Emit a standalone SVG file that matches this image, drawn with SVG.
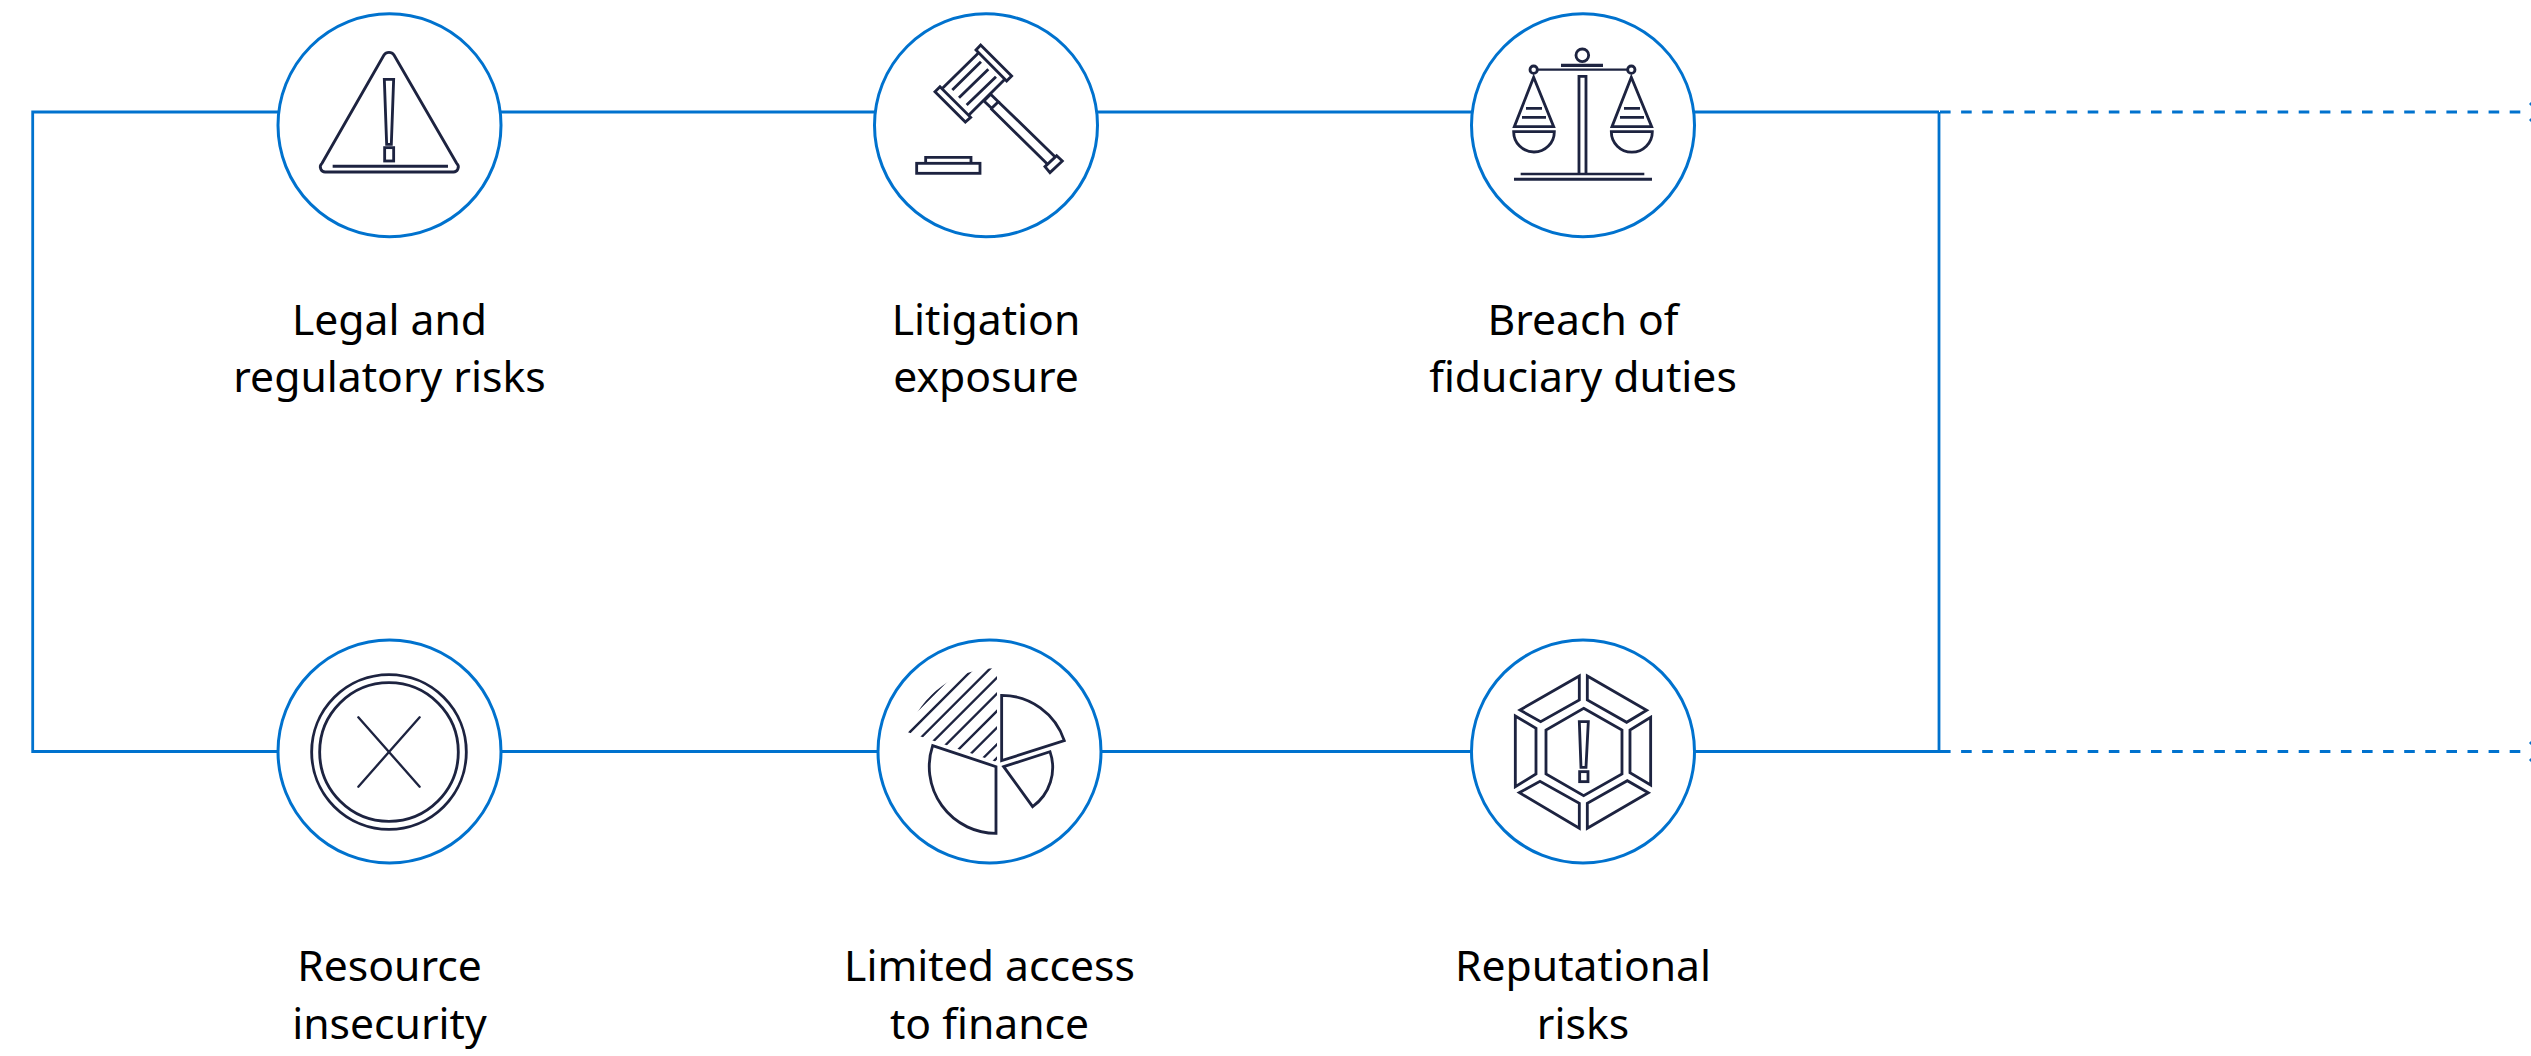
<svg xmlns="http://www.w3.org/2000/svg" width="2531" height="1056" viewBox="0 0 2531 1056">
<style>
.bg{fill:#fff}
.ring{fill:#fff;stroke:#0072ce;stroke-width:3}
.wire{fill:none;stroke:#0072ce;stroke-width:2.800}
.dash{fill:none;stroke:#0072ce;stroke-width:2.800;stroke-dasharray:10.600 10.500}
.i{fill:none;stroke:#1d2340;stroke-width:8.500}
.t{font-family:"Noto Sans","Open Sans",sans-serif;font-size:42.670px;fill:#000;text-anchor:middle}
</style>
<defs>
<clipPath id="hatch"><path d="M396 396L396 115A281 281 0 0 0 129 307Z"/></clipPath>
</defs>
<rect class="bg" width="2531" height="1056"/>
<g id="connectors">
<path class="wire" d="M1939 112H32.700V751.500H1939V112"/>
<path class="dash" d="M1940 112H2530"/>
<path class="dash" d="M1940 751.500H2530"/>
<path class="wire" d="M2530 103L2539 112L2530 121"/>
<path class="wire" d="M2530 742L2539 751.500L2530 761"/>
</g>
<g id="node-legal">
<circle class="ring" cx="389.500" cy="125.300" r="111.500"/>
<g transform="translate(260 0) scale(.3333)">
<path class="i" d="M372 165L186 490A15 15 0 0 0 198 516H578A15 15 0 0 0 590 490L402 165A18 18 0 0 0 372 165Z"/>
<path class="i" style="stroke-width:9" d="M218 499H564"/>
<path class="i" d="M373 238H401L394 433H380Z"/>
<rect class="i" x="374" y="443" width="27" height="40"/>
</g>
<text class="t" x="389.500" y="335">Legal and</text>
<text class="t" x="389.500" y="392">regulatory risks</text>
</g>
<g id="node-litigation">
<circle class="ring" cx="986" cy="125.300" r="111.500"/>
<g transform="translate(860 0) scale(.3333)">
<path class="i" d="M348 150L362 135L455 228L440 243Z"/>
<path class="i" d="M225 275L240 260L332 352L316 366Z"/>
<path class="i" d="M246 266L356 158M326 346L436 236"/>
<path class="i" d="M277 270L363 185M297 293L385 208M320 315L408 230"/>
<path class="i" d="M372 303L392 283L415 305L395 325Z"/>
<path class="i" d="M392 325L562 492M415 305L585 470"/>
<path class="i" d="M555 500L590 467L607 483L570 518Z"/>
<path class="i" d="M197 490V472H333V490"/>
<rect class="i" x="170" y="490" width="190" height="30"/>
</g>
<text class="t" x="986" y="335">Litigation</text>
<text class="t" x="986" y="392">exposure</text>
</g>
<g id="node-fiduciary">
<circle class="ring" cx="1583" cy="125.300" r="111.500"/>
<g transform="translate(1460 0) scale(.3333)">
<circle class="i" cx="367" cy="166" r="19"/>
<path class="i" style="stroke-width:10" d="M303 196H429"/>
<path class="i" style="stroke-width:7" d="M232 209H503"/>
<circle class="i" cx="221" cy="209" r="11"/>
<circle class="i" cx="514" cy="209" r="11"/>
<path class="i" d="M357 522V229H378V522"/>
<path class="i" style="stroke-width:7" d="M182 522H553"/>
<path class="i" style="stroke-width:9" d="M162 538H576"/>
<path class="i" d="M221 232L163 380H281Z"/>
<path class="i" d="M198 325H246M186 352H258"/>
<path class="i" d="M161 395H283A61 61 0 0 1 161 395Z"/>
<path class="i" d="M514 232L456 380H575Z"/>
<path class="i" d="M492 325H540M480 352H552"/>
<path class="i" d="M454 395H577A61.500 61.500 0 0 1 454 395Z"/>
</g>
<text class="t" x="1583" y="335">Breach of</text>
<text class="t" x="1583" y="392">fiduciary duties</text>
</g>
<g id="node-resource">
<circle class="ring" cx="389.500" cy="751.500" r="111.500"/>
<g transform="translate(260 630) scale(.3333)">
<circle class="i" cx="387" cy="366" r="232"/>
<circle class="i" cx="387" cy="366" r="208"/>
<path class="i" style="stroke-width:7;stroke-linecap:round" d="M295 262L479 470M479 262L295 470"/>
</g>
<text class="t" x="389.500" y="981">Resource</text>
<text class="t" x="389.500" y="1039">insecurity</text>
</g>
<g id="node-finance">
<circle class="ring" cx="989.500" cy="751.500" r="111.500"/>
<g transform="translate(865 630) scale(.3333)">
<path class="i" d="M410 196V392L598 332A198 198 0 0 0 410 196Z"/>
<path class="i" d="M416 410L555 365A145 145 0 0 1 503 530Z"/>
<path class="i" d="M203 347L393 410V610A200 200 0 0 1 203 347Z"/>
<g clip-path="url(#hatch)">
<path class="i" style="stroke-width:7" d="M100 298L298 100M100 341L341 100M100 391L391 100M100 439L439 100M100 487L487 100M100 539L539 100M100 589L589 100M100 639L639 100M100 680L680 100"/>
</g>
</g>
<text class="t" x="989.500" y="981">Limited access</text>
<text class="t" x="989.500" y="1039">to finance</text>
</g>
<g id="node-reputational">
<circle class="ring" cx="1583" cy="751.500" r="111.500"/>
<g transform="translate(1460 630) scale(.3333)">
<path class="i" d="M371 235L486 300V432L371 497L258 432V300Z"/>
<path class="i" d="M358 138V210L242 275L180 240Z"/>
<path class="i" d="M382 138V210L500 277L560 241Z"/>
<path class="i" d="M572 262V465L510 428V300Z"/>
<path class="i" d="M382 595V520L502 452L565 488Z"/>
<path class="i" d="M358 595V520L240 454L178 488Z"/>
<path class="i" d="M166 258L228 295V432L166 470Z"/>
<path class="i" d="M358 275H385L378 412H363Z"/>
<rect class="i" x="359" y="425" width="25" height="30"/>
</g>
<text class="t" x="1583" y="981">Reputational</text>
<text class="t" x="1583" y="1039">risks</text>
</g>
</svg>
